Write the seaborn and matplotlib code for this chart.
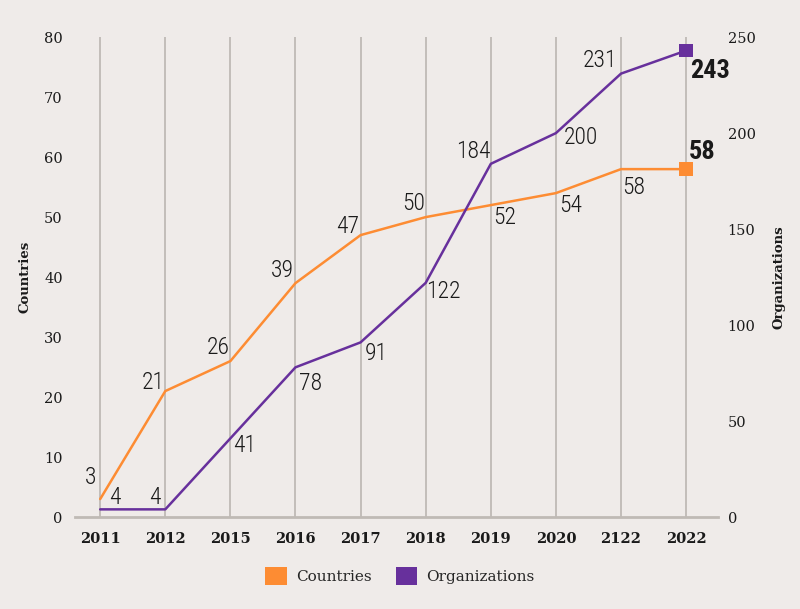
import matplotlib
matplotlib.use("Agg")
import matplotlib.pyplot as plt
import seaborn as sns
import pandas as pd
from matplotlib.patches import Patch
from matplotlib import font_manager as fm

years = ["2011", "2012", "2015", "2016", "2017", "2018", "2019", "2020", "2122", "2022"]
countries = [3, 21, 26, 39, 47, 50, 52, 54, 58, 58]
organizations = [4, 4, 41, 78, 91, 122, 184, 200, 231, 243]

# label offsets in pixels (dx, dy)
c_off = [(-10, 22), (-12, 9), (-12, 14), (-13, 13), (-13, 9), (-12, 14), (14, -12), (15, -12), (13, -18), (16, 17)]
o_off = [(15, 12), (-10, 12), (14, -7), (15, -16), (16, -11), (18, -9), (-17, 12), (25, -4), (-21, 13), (24, -20)]

ORANGE = "#fd8c33"
PURPLE = "#67309c"
BG = "#efebe9"
GRID = "#bfbab5"

sns.set_theme(style="white")
plt.rcParams["font.family"] = ["DejaVu Serif"]

# find a condensed / narrow family if one is installed
names = sorted({f.name for f in fm.fontManager.ttflist})
narrow = None
for cand in ["Liberation Sans Narrow", "Roboto Condensed", "DejaVu Sans Condensed", "Open Sans Condensed",
             "Noto Sans Condensed", "Inter Tight"]:
    if cand in names:
        narrow = cand
        break
stretch = "normal"
if narrow is None:
    for f in fm.fontManager.ttflist:
        if f.name == "DejaVu Sans" and f.stretch in ("condensed", "semi-condensed"):
            narrow = "DejaVu Sans"
            stretch = "condensed"
            break
if narrow is None:
    narrow = "Roboto"
lab_font = [narrow, "DejaVu Sans"]

df = pd.DataFrame({"year": years, "Countries": countries, "Organizations": organizations})

fig = plt.figure(figsize=(8, 6.09), dpi=100, facecolor=BG)
ax = fig.add_axes([0.094, 0.151, 0.8035, 0.788])
ax.set_facecolor(BG)
ax2 = ax.twinx()

sns.lineplot(data=df, x="year", y="Countries", ax=ax, color=ORANGE, lw=1.8, sort=False)
sns.lineplot(data=df, x="year", y="Organizations", ax=ax2, color=PURPLE, lw=1.8, sort=False)
sns.scatterplot(x=[years[-1]], y=[countries[-1]], ax=ax, marker="s", s=95, color=ORANGE, edgecolor="none", zorder=5)
sns.scatterplot(x=[years[-1]], y=[organizations[-1]], ax=ax2, marker="s", s=95, color=PURPLE, edgecolor="none", zorder=5)

ax.set_ylim(0, 80)
ax2.set_ylim(0, 250)
ax.set_xlim(-0.384, 9.49)
ax.set_yticks([0, 10, 20, 30, 40, 50, 60, 70, 80])
ax2.set_yticks([0, 50, 100, 150, 200, 250])

ax.grid(axis="x", color=GRID, lw=1.3)
ax.grid(axis="y", visible=False)
ax2.grid(False)
ax.set_axisbelow(True)

for a in (ax, ax2):
    for s in ("left", "right", "top", "bottom"):
        a.spines[s].set_visible(False)
ax.spines["bottom"].set_visible(True)
ax.spines["bottom"].set_color(GRID)
ax.spines["bottom"].set_linewidth(2)

ax.tick_params(axis="both", length=0, labelsize=10.5, colors="#1a1a1a")
ax.tick_params(axis="x", pad=11)
ax.tick_params(axis="y", pad=9)
ax2.tick_params(axis="y", length=0, labelsize=10.5, colors="#1a1a1a", pad=7)
for lbl in ax.get_xticklabels():
    lbl.set_fontweight("semibold")

ax.set_xlabel("")
ax.set_ylabel("Countries", fontsize=9.5, fontweight="bold", color="#1a1a1a", labelpad=9)
ax2.set_ylabel("Organizations", fontsize=9.5, fontweight="bold", color="#1a1a1a", labelpad=12)

n = len(years)
for i in range(n):
    last = i == n - 1
    ax.annotate(str(countries[i]), (i, countries[i]), xytext=c_off[i], textcoords="offset pixels",
                ha="center", va="center", fontsize=19 if last else 17, fontstretch=stretch,
                fontweight="bold" if last else "light", family=lab_font, color="#1a1a1a")
    ax2.annotate(str(organizations[i]), (i, organizations[i]), xytext=o_off[i], textcoords="offset pixels",
                 ha="center", va="center", fontsize=19 if last else 17, fontstretch=stretch,
                 fontweight="bold" if last else "light", family=lab_font, color="#1a1a1a")

handles = [Patch(facecolor=ORANGE, edgecolor="none", label="Countries"),
           Patch(facecolor=PURPLE, edgecolor="none", label="Organizations")]
fig.legend(handles=handles, loc="center", bbox_to_anchor=(0.5, 0.054), ncol=2, frameon=False,
           fontsize=11, handlelength=1.4, handleheight=1.4, columnspacing=1.6, handletextpad=0.6)

fig.savefig("out.png", dpi=100, facecolor=BG)
